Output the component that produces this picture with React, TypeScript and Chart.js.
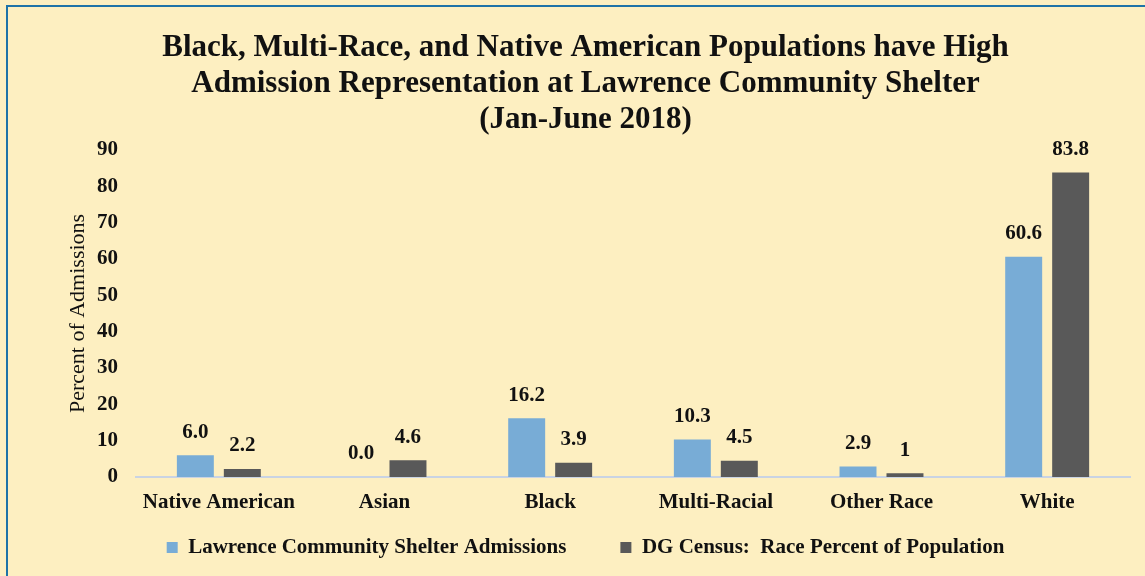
import React, { useEffect, useRef } from "react";
import { Chart, registerables } from "chart.js";

Chart.register(...registerables);

const categories = ["Native American", "Asian", "Black", "Multi-Racial", "Other Race", "White"];
const shelterValues = [6.0, 0.0, 16.2, 10.3, 2.9, 60.6];
const censusValues = [2.2, 4.6, 3.9, 4.5, 1, 83.8];
const seriesNames = ["Lawrence Community Shelter Admissions", "DG Census:  Race Percent of Population"];
const titleLines = [
  "Black, Multi-Race, and Native American Populations have High",
  "Admission Representation at Lawrence Community Shelter",
  "(Jan-June 2018)",
];
const yAxisTitle = "Percent of Admissions";

const FONT = "'Liberation Serif', 'DejaVu Serif', serif";

const valueLabels = {
  id: "valueLabels",
  afterDatasetsDraw(chart: any) {
    const ctx = chart.ctx;
    ctx.save();
    ctx.font = `bold 21px ${FONT}`;
    ctx.fillStyle = "#111";
    ctx.textAlign = "center";
    ctx.textBaseline = "middle";
    chart.data.datasets.forEach((ds: any, di: number) => {
      const meta = chart.getDatasetMeta(di);
      meta.data.forEach((bar: any, i: number) => {
        const v = ds.data[i];
        const txt = di === 0 ? v.toFixed(1) : String(v);
        ctx.fillText(txt, bar.x, bar.y - 23);
      });
    });
    ctx.restore();
  },
};

export default function App() {
  const ref = useRef<HTMLCanvasElement>(null);
  useEffect(() => {
    if (!ref.current) return;
    const chart = new Chart(ref.current, {
      type: "bar",
      data: {
        labels: categories,
        datasets: [
          {
            label: seriesNames[0],
            data: shelterValues,
            backgroundColor: "#78ACD6",
            categoryPercentage: 0.567,
            barPercentage: 0.787,
          },
          {
            label: seriesNames[1],
            data: censusValues,
            backgroundColor: "#595959",
            categoryPercentage: 0.567,
            barPercentage: 0.787,
          },
        ],
      },
      options: {
        responsive: false,
        animation: false,
        layout: { padding: { left: 33, right: 15, top: 0, bottom: 8 } },
        plugins: {
          title: {
            display: true,
            text: titleLines,
            color: "#111",
            font: { family: FONT, size: 31, weight: "bold", lineHeight: 1.161 },
            padding: { top: 23, bottom: 12 },
          },
          legend: {
            position: "bottom",
            labels: {
              color: "#111",
              font: { family: FONT, size: 21, weight: "bold" },
              boxWidth: 11,
              boxHeight: 11,
              padding: 54,
            },
          },
          tooltip: { enabled: false },
        },
        scales: {
          x: {
            grid: { display: false, drawTicks: false },
            border: { display: true, color: "#C9D3E3", width: 2 },
            ticks: {
              color: "#111",
              font: { family: FONT, size: 21, weight: "bold" },
              padding: 13,
            },
            afterFit(scale: any) {
              scale.height = 6;
              scale._computeLabelArea = () => undefined;
            },
          },
          y: {
            min: 0,
            max: 90,
            grid: { display: false, drawTicks: false },
            border: { display: false },
            ticks: {
              stepSize: 10,
              color: "#111",
              font: { family: FONT, size: 21, weight: "bold" },
              padding: 18,
            },
            title: {
              display: true,
              text: yAxisTitle,
              color: "#111",
              font: { family: FONT, size: 22, weight: "normal" },
              padding: { top: 24, bottom: 6 },
            },
            afterFit(scale: any) {
              scale.width = 95;
            },
          },
        },
      },
      plugins: [valueLabels],
    });
    return () => chart.destroy();
  }, []);
  return (
    <div style={{ position: "fixed", left: 0, top: 0, width: 1145, height: 576, background: "#FDEFC1", overflow: "hidden" }}>
      <div
        style={{
          position: "absolute",
          left: 6,
          top: 5,
          width: 1200,
          height: 700,
          borderLeft: "2px solid #1E73A8",
          borderTop: "2px solid #1E73A8",
        }}
      />
      <canvas ref={ref} width={1137} height={569} style={{ position: "absolute", left: 8, top: 7 }} />
    </div>
  );
}
